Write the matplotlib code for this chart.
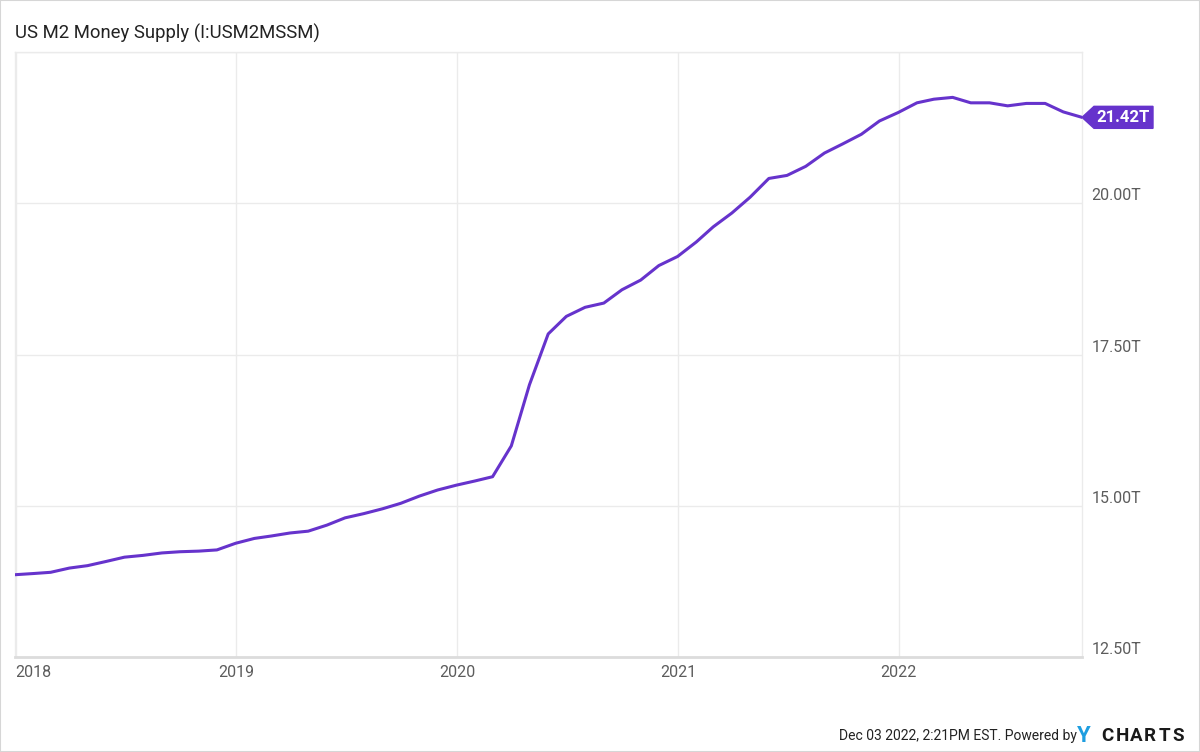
import matplotlib
matplotlib.use("Agg")
import matplotlib.pyplot as plt
import matplotlib.dates as mdates
import matplotlib.transforms as mtransforms
from matplotlib.patches import Polygon, Rectangle
import pandas as pd

# monthly M2, trillions USD (month-end dates)
dates = pd.date_range("2017-12-31", periods=59, freq="ME")
m2 = [
    13.86, 13.88, 13.90, 13.97, 14.01, 14.08, 14.15, 14.18, 14.22, 14.24, 14.25, 14.27,
    14.38, 14.46, 14.50, 14.55, 14.58, 14.68, 14.80, 14.87, 14.95, 15.04, 15.16, 15.26,
    15.34, 15.41, 15.48, 15.99, 17.00, 17.84, 18.13, 18.28, 18.35, 18.57, 18.73, 18.97,
    19.12, 19.36, 19.61, 19.84, 20.10, 20.41, 20.46, 20.61, 20.83, 20.98, 21.14, 21.36,
    21.50, 21.66, 21.72, 21.75, 21.66, 21.66, 21.61, 21.65, 21.65, 21.51, 21.42,
]
year_ticks = ["2018", "2019", "2020", "2021", "2022"]
y_ticks = [12.5, 15.0, 17.5, 20.0]
last_label = "21.42T"

purple = "#6633cc"
grid_col = "#ebebeb"
text_col = "#5c5c5c"

plt.rcParams["font.family"] = ["Roboto", "DejaVu Sans"]

fig = plt.figure(figsize=(12, 7.52), dpi=100)
ax = fig.add_axes([15 / 1200, 1 - 657 / 752, 1067 / 1200, 605 / 752])

ax.plot(dates, m2, color=purple, lw=2.2, solid_joinstyle="round", zorder=3)

ax.set_xlim(dates[0], dates[-1])
ax.set_ylim(12.5, 22.5)

# grid
xt = pd.to_datetime([y + "-01-01" for y in year_ticks])
ax.set_xticks(xt)
ax.set_xticklabels(year_ticks)
ax.set_yticks(y_ticks + [22.5])
ax.set_yticklabels([])
ax.grid(True, color=grid_col, lw=1)
ax.tick_params(length=0, labelsize=11.5, labelcolor=text_col, pad=6)
ax.tick_params(axis="y", labelright=False, labelleft=False)
xlabels = ax.get_xticklabels()
xlabels[0].set_ha("left")

for s in ["left", "top", "right"]:
    ax.spines[s].set_color(grid_col)
    ax.spines[s].set_linewidth(1)
ax.spines["bottom"].set_color("#dcdcdc")
ax.spines["bottom"].set_linewidth(2)

# right side value labels, sitting just above the gridlines
for v in y_ticks:
    ax.text(1.009, v, f"{v:.2f}T", transform=ax.get_yaxis_transform(),
            ha="left", va="bottom", fontsize=11.5, color=text_col)

# badge with last value
last_x = mdates.date2num(dates[-1].to_pydatetime())
trans = fig.dpi_scale_trans + mtransforms.ScaledTranslation(last_x, m2[-1], ax.transData)
badge = Polygon([(0, 0), (0.12, 0.11), (0.71, 0.11), (0.71, -0.11), (0.12, -0.11)],
                closed=True, transform=trans, facecolor=purple, edgecolor=purple,
                clip_on=False, zorder=5)
ax.add_patch(badge)
ax.text(0.415, 0.0, last_label, transform=trans, ha="center", va="center",
        color="white", fontsize=12, fontweight="bold", zorder=6, clip_on=False)

fig.text(15 / 1200, 1 - 33 / 752, "US M2 Money Supply (I:USM2MSSM)",
         fontsize=13.3, color="#222222", va="center", ha="left")

foot_y = 1 - 736 / 752
fig.text(1077 / 1200, foot_y, "Dec 03 2022, 2:21PM EST. Powered by",
         fontsize=10, color="#222222", va="center", ha="right")
fig.text(1077 / 1200, foot_y, "Y", fontsize=16, fontweight="bold",
         color="#1e9ee0", va="center", ha="left")
for i, ch in enumerate("CHARTS"):
    fig.text((1101 + i * 14.3) / 1200, foot_y, ch, fontsize=13.5, fontweight="bold",
             color="#1a1a1a", va="center", ha="left")

fig.patches.append(Rectangle((0, 0), 1, 1, transform=fig.transFigure, fill=False,
                             edgecolor="#d6d6d6", lw=1.5))

fig.savefig("out.png", dpi=100)
